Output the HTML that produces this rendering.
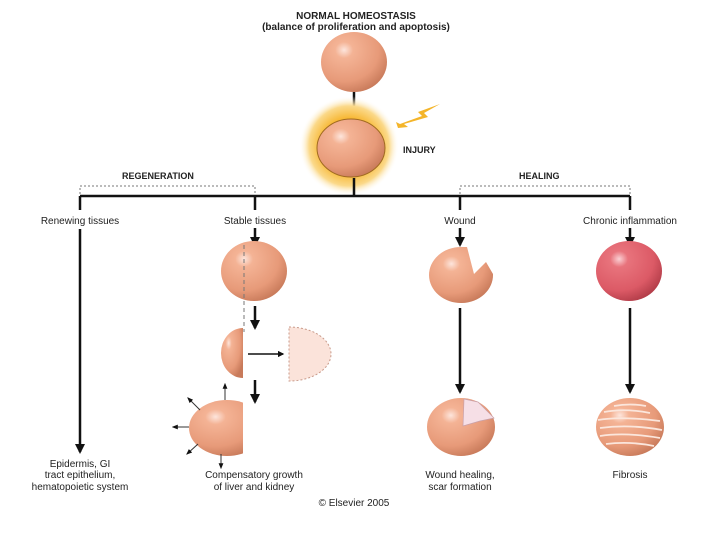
<!DOCTYPE html>
<html><head><meta charset="utf-8"><style>
html,body{margin:0;padding:0;background:#fff;}
svg{display:block;font-family:"Liberation Sans",Arial,sans-serif;}
</style></head><body>
<svg width="720" height="540" viewBox="0 0 720 540">
<defs>
<radialGradient id="c" cx="0.35" cy="0.3" r="0.75">
<stop offset="0" stop-color="#fde5dc"/><stop offset="0.18" stop-color="#f4b395"/><stop offset="0.7" stop-color="#e79a79"/><stop offset="1" stop-color="#c87a5a"/></radialGradient>
<radialGradient id="r" cx="0.35" cy="0.3" r="0.75">
<stop offset="0" stop-color="#fbd0d4"/><stop offset="0.18" stop-color="#e8737c"/><stop offset="0.7" stop-color="#dc5a66"/><stop offset="1" stop-color="#b23c48"/></radialGradient>
<radialGradient id="g" cx="0.5" cy="0.5" r="0.5">
<stop offset="0.55" stop-color="#f7b733"/><stop offset="0.8" stop-color="#fbd98a"/><stop offset="1" stop-color="#fff" stop-opacity="0"/></radialGradient>
<marker id="a" viewBox="0 0 10 10" refX="8" refY="5" markerWidth="4" markerHeight="4" orient="auto"><path d="M0,0L10,5L0,10z" fill="#111"/></marker>
<marker id="s" viewBox="0 0 10 10" refX="8" refY="5" markerWidth="6" markerHeight="6" orient="auto"><path d="M0,1L10,5L0,9z" fill="#111"/></marker>
<clipPath id="lh"><rect x="150" y="300" width="93" height="170"/></clipPath>
</defs>
<g font-size="10" font-weight="bold" text-anchor="middle" fill="#222">
<text x="356" y="19">NORMAL HOMEOSTASIS</text>
<text x="356" y="30">(balance of proliferation and apoptosis)</text>
</g>
<ellipse cx="354" cy="62" rx="33" ry="30" fill="url(#c)"/>
<line x1="354" y1="92" x2="354" y2="117" stroke="#111" stroke-width="2.5" marker-end="url(#a)"/>
<circle cx="349" cy="146" r="50" fill="url(#g)"/>
<ellipse cx="351" cy="148" rx="34" ry="29" fill="url(#c)" stroke="#a06a20" stroke-width="1"/>
<path d="M440,104 L418,112 L422,116 L400,124 L396,122 L398,128 L408,127 L404,124 L428,117 L424,113z" fill="#f4b52a"/>
<text x="403" y="153" font-size="9" font-weight="bold" fill="#222">INJURY</text>
<line x1="354" y1="178" x2="354" y2="196" stroke="#111" stroke-width="2.5"/>
<line x1="80" y1="196" x2="630" y2="196" stroke="#111" stroke-width="2.5"/>
<g font-size="9" font-weight="bold" fill="#222"><text x="122" y="179">REGENERATION</text><text x="519" y="179">HEALING</text></g>
<path d="M80,194V186H255V194M460,194V186H630V194" fill="none" stroke="#777" stroke-dasharray="2,2"/>
<g stroke="#111" stroke-width="2.5"><line x1="80" y1="196" x2="80" y2="210"/><line x1="255" y1="196" x2="255" y2="210"/><line x1="460" y1="196" x2="460" y2="210"/><line x1="630" y1="196" x2="630" y2="210"/></g>
<g font-size="10" text-anchor="middle" fill="#222">
<text x="80" y="224">Renewing tissues</text><text x="255" y="224">Stable tissues</text><text x="460" y="224">Wound</text><text x="630" y="224">Chronic inflammation</text>
<text x="80" y="467">Epidermis, GI</text><text x="80" y="478">tract epithelium,</text><text x="80" y="490">hematopoietic system</text>
<text x="254" y="478">Compensatory growth</text><text x="254" y="490">of liver and kidney</text>
<text x="460" y="478">Wound healing,</text><text x="460" y="490">scar formation</text>
<text x="630" y="478">Fibrosis</text>
<text x="354" y="506" font-size="10">© Elsevier 2005</text>
</g>
<g stroke="#111" stroke-width="2.5" marker-end="url(#a)">
<line x1="80" y1="229" x2="80" y2="452"/>
<line x1="255" y1="228" x2="255" y2="245"/><line x1="460" y1="228" x2="460" y2="245"/><line x1="630" y1="228" x2="630" y2="245"/>
<line x1="255" y1="306" x2="255" y2="328"/><line x1="255" y1="380" x2="255" y2="402"/>
<line x1="460" y1="308" x2="460" y2="392"/><line x1="630" y1="308" x2="630" y2="392"/>
<line x1="248" y1="354" x2="283" y2="354" stroke-width="1.6"/>
</g>
<ellipse cx="254" cy="271" rx="33" ry="30" fill="url(#c)"/>
<line x1="244" y1="245" x2="244" y2="332" stroke="#777" stroke-dasharray="4,3"/>
<path d="M243,328 A22,25 0 0 0 243,378 Z" fill="url(#c)"/>
<path d="M289,327 A42,27 0 0 1 289,381 Z" fill="#fbe3da" stroke="#c89a8a" stroke-dasharray="2,2"/>
<ellipse cx="227" cy="428" rx="38" ry="28" fill="url(#c)" clip-path="url(#lh)"/>
<g stroke="#333" stroke-width="1" marker-end="url(#s)">
<line x1="225" y1="400" x2="225" y2="384"/><line x1="200" y1="410" x2="188" y2="398"/><line x1="189" y1="427" x2="173" y2="427"/><line x1="198" y1="444" x2="187" y2="454"/><line x1="221" y1="454" x2="221" y2="468"/>
</g>
<path d="M461,247 A32,28 0 1 0 493,274 L486,262 L474,274 L467,247 Z" fill="url(#c)"/>
<ellipse cx="461" cy="427" rx="34" ry="29" fill="url(#c)"/>
<path d="M464,399 L478,402 L494,418 L480,421 L463,426 Z" fill="#f6dfe6" stroke="#c9a0a8" stroke-width="0.7"/>
<ellipse cx="629" cy="271" rx="33" ry="30" fill="url(#r)"/>
<ellipse cx="630" cy="427" rx="34" ry="29" fill="url(#c)"/>
<g stroke="#fbe6dc" stroke-width="1.8" fill="none">
<path d="M604,412 Q625,408 650,413"/><path d="M598,420 Q620,416 660,421"/><path d="M600,428 Q630,424 662,430"/><path d="M600,436 Q625,432 660,438"/><path d="M606,444 Q630,441 654,446"/><path d="M614,406 Q630,403 646,406"/>
</g>
</svg>
</body></html>
